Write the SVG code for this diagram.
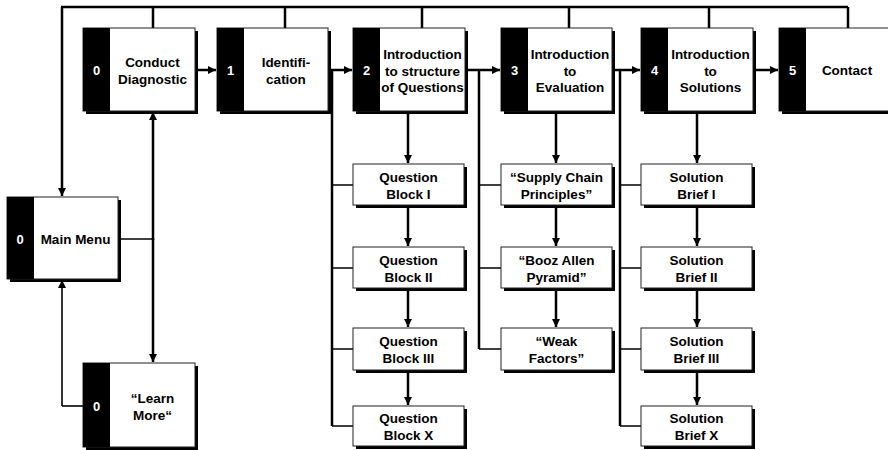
<svg xmlns="http://www.w3.org/2000/svg" width="888" height="450" viewBox="0 0 888 450">
<defs>
<style>
.sh{fill:#000}
.bx{fill:#fff;stroke:#222;stroke-width:1}
.tab{fill:#000}
.t{font-family:"Liberation Sans",Arial,sans-serif;font-weight:bold;font-size:13.5px;fill:#000;text-anchor:middle}
.n{font-family:"Liberation Sans",Arial,sans-serif;font-weight:bold;font-size:13px;fill:#fff;text-anchor:middle}
.c{fill:none;stroke:#000;stroke-width:2.5}
.b{fill:none;stroke:#000;stroke-width:1.6}
</style>
<marker id="ah" viewBox="0 0 8 8" markerWidth="8" markerHeight="8" refX="8" refY="4" orient="auto" markerUnits="userSpaceOnUse">
<path d="M0,0 L8,4 L0,8 z" fill="#000"/>
</marker>
</defs>
<rect width="888" height="450" fill="#fff"/>

<g id="connectors">
<path class="c" d="M61,7 H848 M153,7 V28 M285,7 V28 M422,7 V28 M569,7 V28 M709,7 V28 M848,7 V28"/>
<path class="c" d="M62,7 V196" marker-end="url(#ah)"/>
<path class="c" d="M195,70 H216" marker-end="url(#ah)"/>
<path class="c" d="M328,70 H352" marker-end="url(#ah)"/>
<path class="c" d="M465,70 H500" marker-end="url(#ah)"/>
<path class="c" d="M612,70 H640" marker-end="url(#ah)"/>
<path class="c" d="M753,70 H778" marker-end="url(#ah)"/>
<path class="c" d="M332,70 V426"/>
<path class="b" d="M332,185 H353 M332,268 H353 M332,349 H353 M332,426 H353"/>
<path class="c" d="M479,70 V349"/>
<path class="b" d="M479,185 H501 M479,268 H501 M479,349 H501"/>
<path class="c" d="M620,70 V426"/>
<path class="b" d="M620,185 H641 M620,268 H641 M620,349 H641 M620,426 H641"/>
<path class="c" d="M408,111 V163" marker-end="url(#ah)"/>
<path class="c" d="M408,205 V246" marker-end="url(#ah)"/>
<path class="c" d="M408,288 V327" marker-end="url(#ah)"/>
<path class="c" d="M408,370 V405" marker-end="url(#ah)"/>
<path class="c" d="M556,111 V163" marker-end="url(#ah)"/>
<path class="c" d="M556,205 V246" marker-end="url(#ah)"/>
<path class="c" d="M556,288 V327" marker-end="url(#ah)"/>
<path class="c" d="M697,111 V163" marker-end="url(#ah)"/>
<path class="c" d="M697,205 V246" marker-end="url(#ah)"/>
<path class="c" d="M697,288 V327" marker-end="url(#ah)"/>
<path class="c" d="M697,370 V405" marker-end="url(#ah)"/>
<path class="c" d="M153,240 V112" marker-end="url(#ah)"/>
<path class="c" d="M153,238 V362" marker-end="url(#ah)"/>
<path class="b" d="M118,239 H153"/>
<path class="b" d="M83,406 H62"/>
<path class="b" d="M62,406 V280" marker-end="url(#ah)"/>
</g>

<g id="n0-conduct">
<rect class="sh" x="86" y="31" width="112" height="83"/>
<rect class="bx" x="83" y="28" width="112" height="83"/>
<rect class="tab" x="83" y="28" width="27" height="83"/>
<text class="n" x="96.5" y="75">0</text>
<text class="t" x="152.5" y="67">Conduct</text>
<text class="t" x="152.5" y="84">Diagnostic</text>
</g>

<g id="n1-ident">
<rect class="sh" x="220" y="31" width="111" height="83"/>
<rect class="bx" x="217" y="28" width="111" height="83"/>
<rect class="tab" x="217" y="28" width="27" height="83"/>
<text class="n" x="230.5" y="75">1</text>
<text class="t" x="286" y="67">Identifi-</text>
<text class="t" x="286" y="84">cation</text>
</g>

<g id="n2-intro-questions">
<rect class="sh" x="356" y="31" width="112" height="83"/>
<rect class="bx" x="353" y="28" width="112" height="83"/>
<rect class="tab" x="353" y="28" width="27" height="83"/>
<text class="n" x="366.5" y="75">2</text>
<text class="t" x="422.5" y="58.5">Introduction</text>
<text class="t" x="422.5" y="75.5">to structure</text>
<text class="t" x="422.5" y="92">of Questions</text>
</g>

<g id="n3-intro-eval">
<rect class="sh" x="504" y="31" width="111" height="83"/>
<rect class="bx" x="501" y="28" width="111" height="83"/>
<rect class="tab" x="501" y="28" width="27" height="83"/>
<text class="n" x="514.5" y="75">3</text>
<text class="t" x="570" y="58.5">Introduction</text>
<text class="t" x="570" y="75.5">to</text>
<text class="t" x="570" y="92">Evaluation</text>
</g>

<g id="n4-intro-solutions">
<rect class="sh" x="644" y="31" width="112" height="83"/>
<rect class="bx" x="641" y="28" width="112" height="83"/>
<rect class="tab" x="641" y="28" width="27" height="83"/>
<text class="n" x="654.5" y="75">4</text>
<text class="t" x="710.5" y="58.5">Introduction</text>
<text class="t" x="710.5" y="75.5">to</text>
<text class="t" x="710.5" y="92">Solutions</text>
</g>

<g id="n5-contact">
<rect class="sh" x="782" y="31" width="112" height="83"/>
<rect class="bx" x="779" y="28" width="112" height="83"/>
<rect class="tab" x="779" y="28" width="27" height="83"/>
<text class="n" x="792.5" y="75">5</text>
<text class="t" x="847" y="75">Contact</text>
</g>

<g id="main-menu">
<rect class="sh" x="10" y="200" width="111" height="82"/>
<rect class="bx" x="7" y="197" width="111" height="82"/>
<rect class="tab" x="7" y="197" width="27" height="82"/>
<text class="n" x="20" y="244">0</text>
<text class="t" x="75.5" y="244">Main Menu</text>
</g>

<g id="learn-more">
<rect class="sh" x="86" y="366" width="112" height="84"/>
<rect class="bx" x="83" y="363" width="112" height="84"/>
<rect class="tab" x="83" y="363" width="27" height="84"/>
<text class="n" x="96.5" y="411">0</text>
<text class="t" x="152.5" y="403">“Learn</text>
<text class="t" x="152.5" y="420">More“</text>
</g>

<g id="q1">
<rect class="sh" x="356" y="167" width="111" height="41"/>
<rect class="bx" x="353" y="164" width="111" height="41"/>
<text class="t" x="408.5" y="182">Question</text>
<text class="t" x="408.5" y="198.5">Block I</text>
</g>
<g id="q2">
<rect class="sh" x="356" y="250" width="111" height="41"/>
<rect class="bx" x="353" y="247" width="111" height="41"/>
<text class="t" x="408.5" y="265">Question</text>
<text class="t" x="408.5" y="281.5">Block II</text>
</g>
<g id="q3">
<rect class="sh" x="356" y="331" width="111" height="42"/>
<rect class="bx" x="353" y="328" width="111" height="42"/>
<text class="t" x="408.5" y="346">Question</text>
<text class="t" x="408.5" y="362.5">Block III</text>
</g>
<g id="qx">
<rect class="sh" x="356" y="409" width="111" height="40"/>
<rect class="bx" x="353" y="406" width="111" height="40"/>
<text class="t" x="408.5" y="423">Question</text>
<text class="t" x="408.5" y="439.5">Block X</text>
</g>

<g id="e1">
<rect class="sh" x="504" y="167" width="111" height="41"/>
<rect class="bx" x="501" y="164" width="111" height="41"/>
<text class="t" x="556.5" y="182">“Supply Chain</text>
<text class="t" x="556.5" y="198.5">Principles”</text>
</g>
<g id="e2">
<rect class="sh" x="504" y="250" width="111" height="41"/>
<rect class="bx" x="501" y="247" width="111" height="41"/>
<text class="t" x="556.5" y="265">“Booz Allen</text>
<text class="t" x="556.5" y="281.5">Pyramid”</text>
</g>
<g id="e3">
<rect class="sh" x="504" y="331" width="111" height="42"/>
<rect class="bx" x="501" y="328" width="111" height="42"/>
<text class="t" x="556.5" y="346">“Weak</text>
<text class="t" x="556.5" y="362.5">Factors”</text>
</g>

<g id="s1">
<rect class="sh" x="644" y="167" width="111" height="41"/>
<rect class="bx" x="641" y="164" width="111" height="41"/>
<text class="t" x="696.5" y="182">Solution</text>
<text class="t" x="696.5" y="198.5">Brief I</text>
</g>
<g id="s2">
<rect class="sh" x="644" y="250" width="111" height="41"/>
<rect class="bx" x="641" y="247" width="111" height="41"/>
<text class="t" x="696.5" y="265">Solution</text>
<text class="t" x="696.5" y="281.5">Brief II</text>
</g>
<g id="s3">
<rect class="sh" x="644" y="331" width="111" height="42"/>
<rect class="bx" x="641" y="328" width="111" height="42"/>
<text class="t" x="696.5" y="346">Solution</text>
<text class="t" x="696.5" y="362.5">Brief III</text>
</g>
<g id="sx">
<rect class="sh" x="644" y="409" width="111" height="40"/>
<rect class="bx" x="641" y="406" width="111" height="40"/>
<text class="t" x="696.5" y="423">Solution</text>
<text class="t" x="696.5" y="439.5">Brief X</text>
</g>
</svg>
